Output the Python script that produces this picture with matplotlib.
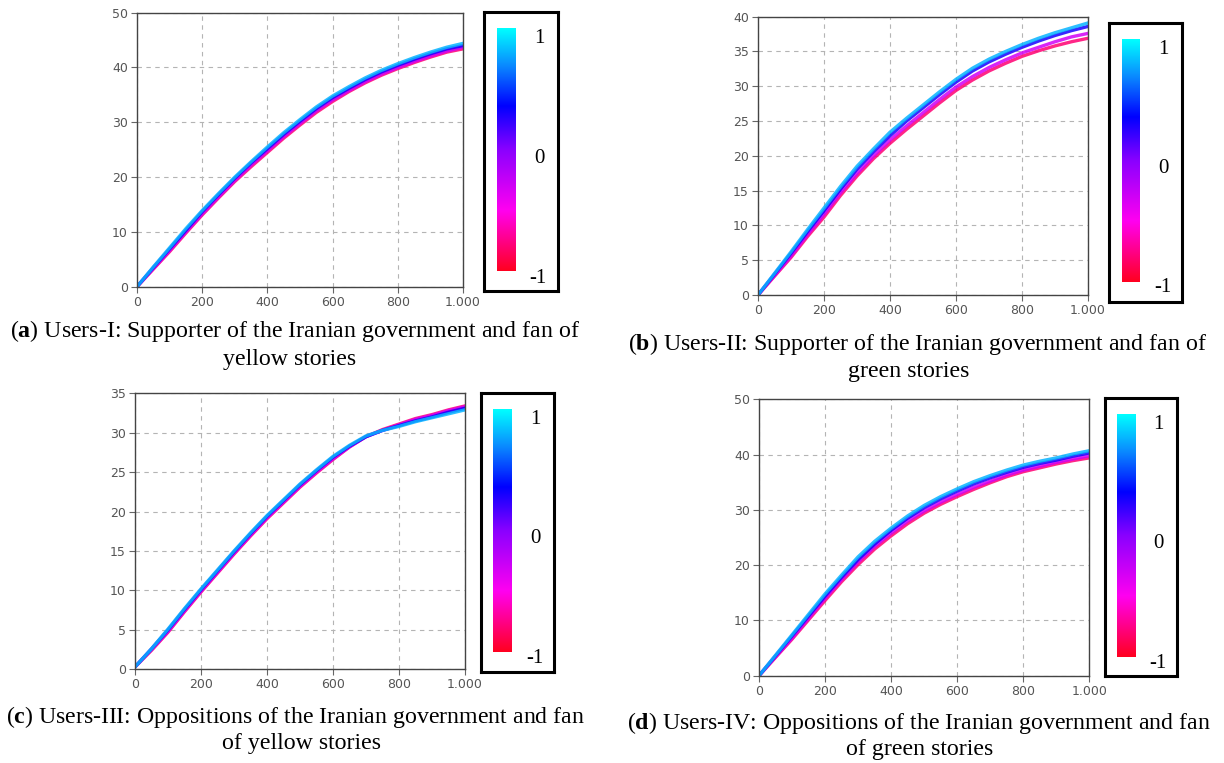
import numpy as np
import matplotlib
matplotlib.use('Agg')
import matplotlib.pyplot as plt
from matplotlib.colors import LinearSegmentedColormap
from matplotlib.ticker import FuncFormatter

################################################################################
# Data: simulated curves for the four user groups, one row per colour level
################################################################################

x = [0, 50, 100, 150, 200, 250, 300, 350, 400, 450, 500,
	 550, 600, 650, 700, 750, 800, 850, 900, 950, 1000]
levels = [-0.8, -0.3, 0.3, 0.8]

users_1 = [
	[0, 3.2, 6.4, 9.8, 13.1, 16.2, 19.2, 21.9, 24.5, 27.1, 29.5, 31.8, 33.8, 35.6, 37.2, 38.6, 39.8, 40.9, 41.9, 42.8, 43.4],
	[0, 3.3, 6.6, 10.0, 13.3, 16.4, 19.4, 22.2, 24.8, 27.4, 29.8, 32.1, 34.1, 35.8, 37.4, 38.8, 40.0, 41.1, 42.1, 43.0, 43.7],
	[0, 3.5, 6.9, 10.3, 13.7, 16.8, 19.8, 22.6, 25.2, 27.8, 30.2, 32.5, 34.5, 36.2, 37.8, 39.2, 40.4, 41.5, 42.5, 43.4, 44.0],
	[0, 3.6, 7.1, 10.6, 13.9, 17.0, 20.0, 22.8, 25.5, 28.1, 30.5, 32.8, 34.8, 36.5, 38.1, 39.5, 40.7, 41.8, 42.8, 43.7, 44.4],
]
users_2 = [
	[0, 2.7, 5.4, 8.4, 11.2, 14.3, 17.1, 19.6, 21.8, 23.8, 25.7, 27.6, 29.4, 30.9, 32.2, 33.3, 34.3, 35.1, 35.8, 36.4, 36.9],
	[0, 2.8, 5.6, 8.7, 11.6, 14.7, 17.5, 20.0, 22.3, 24.3, 26.2, 28.1, 29.9, 31.4, 32.7, 33.8, 34.8, 35.6, 36.4, 37.1, 37.6],
	[0, 3.0, 6.0, 9.1, 12.1, 15.2, 18.1, 20.6, 22.9, 25.0, 26.9, 28.8, 30.6, 32.2, 33.5, 34.6, 35.6, 36.5, 37.3, 38.0, 38.6],
	[0, 3.1, 6.2, 9.4, 12.5, 15.6, 18.5, 21.0, 23.4, 25.4, 27.3, 29.2, 31.0, 32.6, 33.9, 35.0, 36.0, 36.9, 37.7, 38.4, 39.1],
]
users_3 = [
	[0.3, 2.4, 4.7, 7.3, 9.8, 12.2, 14.6, 16.9, 19.1, 21.1, 23.1, 24.9, 26.6, 28.2, 29.5, 30.4, 31.1, 31.8, 32.3, 32.9, 33.4],
	[0.3, 2.5, 4.8, 7.4, 9.9, 12.3, 14.7, 17.0, 19.2, 21.2, 23.2, 25.0, 26.7, 28.2, 29.5, 30.3, 31.0, 31.7, 32.2, 32.8, 33.3],
	[0.3, 2.6, 5.0, 7.6, 10.1, 12.5, 14.9, 17.2, 19.4, 21.4, 23.4, 25.2, 26.9, 28.3, 29.5, 30.3, 30.9, 31.5, 32.0, 32.6, 33.1],
	[0.3, 2.6, 5.1, 7.7, 10.2, 12.6, 15.0, 17.3, 19.5, 21.5, 23.5, 25.3, 27.0, 28.4, 29.6, 30.3, 30.8, 31.4, 31.9, 32.4, 32.9],
]
users_4 = [
	[0, 3.3, 6.6, 10.1, 13.6, 17.0, 20.1, 22.9, 25.3, 27.5, 29.4, 31.0, 32.4, 33.7, 34.9, 36.0, 36.9, 37.6, 38.3, 38.9, 39.4],
	[0, 3.4, 6.8, 10.4, 14.0, 17.4, 20.6, 23.4, 25.8, 28.0, 29.8, 31.4, 32.8, 34.1, 35.2, 36.3, 37.2, 37.9, 38.6, 39.2, 39.8],
	[0, 3.6, 7.2, 10.8, 14.4, 17.8, 21.0, 23.8, 26.3, 28.5, 30.4, 32.0, 33.4, 34.7, 35.8, 36.8, 37.7, 38.4, 39.0, 39.7, 40.3],
	[0, 3.7, 7.4, 11.1, 14.8, 18.2, 21.5, 24.3, 26.7, 28.9, 30.8, 32.4, 33.8, 35.1, 36.2, 37.2, 38.1, 38.8, 39.4, 40.1, 40.7],
]

xticks = [0, 200, 400, 600, 800, 1000]
yticks_1 = [0, 10, 20, 30, 40, 50]
yticks_2 = [0, 5, 10, 15, 20, 25, 30, 35, 40]
yticks_3 = [0, 5, 10, 15, 20, 25, 30, 35]
yticks_4 = [0, 10, 20, 30, 40, 50]

captions = [
	(r'($\mathbf{a}$) Users-I: Supporter of the Iranian government and fan of', 'yellow stories'),
	(r'($\mathbf{b}$) Users-II: Supporter of the Iranian government and fan of', 'green stories'),
	(r'($\mathbf{c}$) Users-III: Oppositions of the Iranian government and fan', 'of yellow stories'),
	(r'($\mathbf{d}$) Users-IV: Oppositions of the Iranian government and fan', 'of green stories'),
]
bar_labels = ['1', '0', '-1']

################################################################################
# Layout helpers (pixel coordinates, origin top-left)
################################################################################

W, H = 1224, 763

plt.rcParams['mathtext.fontset'] = 'custom'
plt.rcParams['mathtext.rm'] = 'Liberation Serif'
plt.rcParams['mathtext.bf'] = 'Liberation Serif:bold'

cmap = LinearSegmentedColormap.from_list('opinion', [
	(0.0, '#ff0020'), (0.25, '#ff00f0'), (0.5, '#8a00ff'),
	(0.68, '#0000ff'), (0.85, '#0a8cff'), (1.0, '#00ffff')])

def rect(l, t, r, b):
	return [l / W, 1 - b / H, (r - l) / W, (b - t) / H]

def dotted_thousands(v, pos):
	return '{:,.0f}'.format(v).replace(',', '.')

def curves(fig, box, series, yticks):
	ax = fig.add_axes(rect(*box))
	for lev, ys in zip(levels, series):
		ax.plot(x, ys, color = cmap((lev + 1) / 2), lw = 2.4, alpha = 0.85,
				solid_joinstyle = 'round')
	ax.set_xlim(0, 1000)
	ax.set_ylim(yticks[0], yticks[-1])
	ax.set_xticks(xticks)
	ax.set_yticks(yticks)
	ax.xaxis.set_major_formatter(FuncFormatter(dotted_thousands))
	ax.grid(True, color = '#b4b4b4', ls = (0, (4, 4)), lw = 0.8)
	ax.tick_params(colors = '#666666', labelcolor = '#555555', labelsize = 9,
				   length = 4, width = 0.8, pad = 2.5)
	for s in ax.spines.values():
		s.set_color('#444444')
		s.set_linewidth(1.0)
	return ax

def colorbar(fig, box, grad, labels_at):
	l, t, r, b = box
	ax = fig.add_axes(rect(*box))
	g = np.linspace(1, -1, 256)[:, None]
	gl, gt, gr, gb = grad
	ax.imshow(g, cmap = cmap, vmin = -1, vmax = 1, aspect = 'auto',
			  origin = 'upper', extent = (gl, gr, gb, gt))
	ax.set_xlim(l, r)
	ax.set_ylim(b, t)
	ax.set_xticks([])
	ax.set_yticks([])
	for s in ax.spines.values():
		s.set_color('black')
		s.set_linewidth(2.2)
	for txt, (tx, ty) in zip(bar_labels, labels_at):
		ax.text(tx, ty, txt, ha = 'center', va = 'center', fontsize = 15,
				family = 'Liberation Serif')

def caption(fig, lines, cx, y1, y2):
	fig.text(cx[0] / W, 1 - y1 / H, lines[0], ha = 'center', va = 'center',
			 fontsize = 17.2, family = 'Liberation Serif')
	fig.text(cx[1] / W, 1 - y2 / H, lines[1], ha = 'center', va = 'center',
			 fontsize = 17.2, family = 'Liberation Serif')

################################################################################
# Figure
################################################################################

def main():
	fig = plt.figure(figsize = (W / 100, H / 100), dpi = 100)

	curves(fig, (137, 12.7, 463, 286.7), users_1, yticks_1)
	colorbar(fig, (484.3, 12.3, 557.7, 290.7), (497.3, 28.3, 515.7, 270.7),
			 [(539, 38.7), (539, 158.3), (538, 279)])
	caption(fig, captions[0], (295, 290), 331, 360)

	curves(fig, (758, 16.7, 1088, 295), users_2, yticks_2)
	colorbar(fig, (1109.3, 22.7, 1182.3, 301.7), (1122, 39, 1140, 281.7),
			 [(1163.3, 49.3), (1163.3, 168.3), (1163.3, 287.3)])
	caption(fig, captions[1], (918, 909), 344, 372)

	curves(fig, (135, 393.3, 465, 669.3), users_3, yticks_3)
	colorbar(fig, (481, 393.3, 554, 671.7), (493.3, 409, 512, 651.7),
			 [(535, 419.3), (535, 538.3), (535, 658.3)])
	caption(fig, captions[2], (296, 302), 717, 743)

	curves(fig, (759, 399.3, 1089.3, 675.7), users_4, yticks_4)
	colorbar(fig, (1105, 398.3, 1177.3, 676), (1117, 414, 1136, 656.7),
			 [(1158.3, 424.3), (1158.3, 543.3), (1157.7, 663.3)])
	caption(fig, captions[3], (919, 920), 723, 750)

	fig.savefig('out.png', dpi = 100)

if __name__ == '__main__':
	main()
